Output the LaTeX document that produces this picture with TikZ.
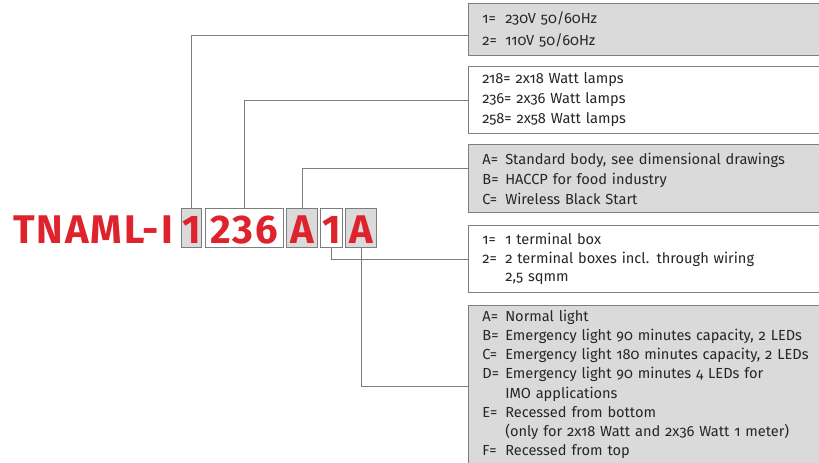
\documentclass[tikz,border=0pt]{standalone}
\usepackage{fontspec}
\setmainfont{Fira Sans}[Numbers=OldStyle]
\newfontfamily\codefont{Fira Sans}[Numbers=Lining, LetterSpace=5]
\usetikzlibrary{positioning}
\definecolor{codered}{RGB}{222,35,45}
\definecolor{boxgray}{RGB}{218,218,218}
\definecolor{linegray}{RGB}{125,125,125}
\newcommand\keyref[1]{\makebox[18pt][l]{#1}}

\begin{document}
\begin{tikzpicture}[x=1pt,y=-1pt,
    codebox/.style={draw=linegray, line width=0.8pt, anchor=north west, inner sep=0pt,
      minimum height=39pt, text height=35pt, text depth=4pt, text=codered,
      font=\codefont\bfseries\fontsize{40}{40}\selectfont},
    infobox/.style={draw=linegray, line width=0.8pt, anchor=north west, align=left,
      text width=330pt, inner xsep=14pt, inner ysep=0pt, text=black!85,
      font=\fontsize{14.6}{20}\selectfont},
    link/.style={draw=linegray, line width=0.8pt}]
  \useasboundingbox (0,0) rectangle (819,463);

  % type code
  \node[anchor=base west, text=codered, inner sep=0pt,
    font=\codefont\bfseries\fontsize{40}{40}\selectfont] (title) at (13,243) {TNAML-I};
  \node[codebox, fill=boxgray, minimum width=20pt] (c1) at (181,208) {1};
  \node[codebox, fill=white, minimum width=78pt] (c2) at (205,208) {236};
  \node[codebox, fill=boxgray, minimum width=31pt] (c3) at (286,208) {A};
  \node[codebox, fill=white, minimum width=22pt] (c4) at (320,208) {1};
  \node[codebox, fill=boxgray, minimum width=31pt] (c5) at (345,208) {A};

  % options
  \node[infobox, fill=boxgray, minimum height=52pt, font=\fontsize{14.6}{22}\selectfont] (d1) at (468,3)
    {\keyref{1=} 230V 50/60Hz\\ \keyref{2=} 110V 50/60Hz};
  \node[infobox, fill=white, minimum height=67pt] (d2) at (468,66)
    {218= 2x18 Watt lamps\\ 236= 2x36 Watt lamps\\ 258= 2x58 Watt lamps};
  \node[infobox, fill=boxgray, minimum height=68pt] (d3) at (468,144)
    {\keyref{A=} Standard body, see dimensional drawings\\ \keyref{B=} HACCP for food industry\\
     \keyref{C=} Wireless Black Start};
  \node[infobox, fill=white, minimum height=67pt, font=\fontsize{14.6}{18.5}\selectfont] (d4) at (468,225)
    {\keyref{1=} 1 terminal box\\ \keyref{2=} 2 terminal boxes incl. through wiring\\
     \keyref{} 2,5 sqmm};
  \node[infobox, fill=boxgray, minimum height=158pt, font=\fontsize{14.6}{19.2}\selectfont] (d5) at (468,305)
    {\keyref{A=} Normal light\\
     \keyref{B=} Emergency light 90 minutes capacity, 2 LEDs\\
     \keyref{C=} Emergency light 180 minutes capacity, 2 LEDs\\
     \keyref{D=} Emergency light 90 minutes 4 LEDs for\\
     \keyref{} IMO applications\\
     \keyref{E=} Recessed from bottom\\
     \keyref{} (only for 2x18 Watt and 2x36 Watt 1 meter)\\
     \keyref{F=} Recessed from top};

  \draw[link] (c1.north) |- ([yshift=-6pt]d1.west);
  \draw[link] (c2.north) |- (d2.west);
  \draw[link] (c3.north) |- ([yshift=10pt]d3.west);
  \draw[link] (c4.south) |- (d4.west);
  \draw[link] (c5.south) |- ([yshift=-2pt]d5.west);
\end{tikzpicture}
\end{document}
